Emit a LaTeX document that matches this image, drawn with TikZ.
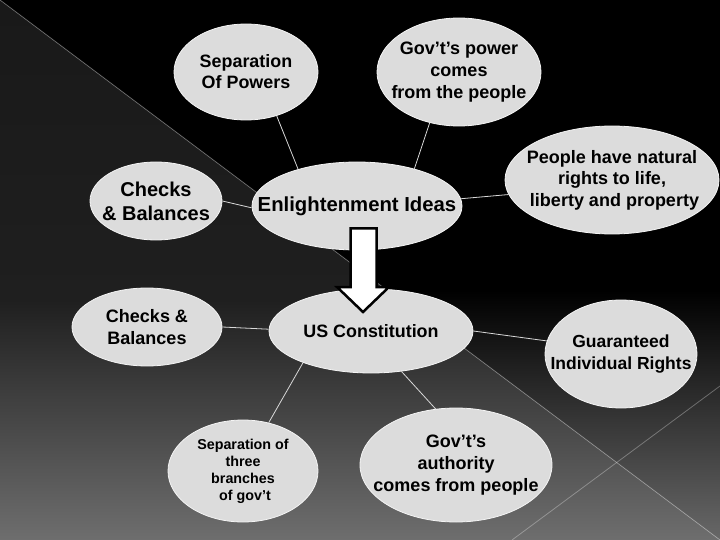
\documentclass[tikz,border=0pt]{standalone}
\usepackage{fontspec}
\setmainfont{Liberation Sans}
\usetikzlibrary{shapes.geometric}
\definecolor{bubblefill}{HTML}{DCDCDC}
\definecolor{bubbleedge}{HTML}{F4F4F4}
\definecolor{linkcol}{HTML}{D8D8D8}
\definecolor{bgA}{HTML}{191919}
\definecolor{bgB}{HTML}{1F1F1F}
\definecolor{bgC}{HTML}{6E6E6E}
\definecolor{bgD}{HTML}{686868}
\begin{document}
\begin{tikzpicture}[x=1pt,y=-1pt,
  bubble/.style={ellipse, fill=bubblefill, draw=bubbleedge, line width=0.8pt,
                 inner sep=0pt},
  btext/.style={inner sep=0pt, align=center, text=black},
  link/.style={draw=linkcol, line width=0.8pt},
  bgline/.style={draw=white, draw opacity=0.3, line width=0.8pt}]
\useasboundingbox (0,0) rectangle (720,540);
% background: lower-left triangle
\begin{scope}
  \clip (0,0) -- (720,540) -- (0,540) -- cycle;
  \shade[top color=bgA, bottom color=bgB] (0,0) rectangle (720,300);
  \shade[top color=bgB, bottom color=bgC] (0,300) rectangle (720,540.5);
\end{scope}
% background: upper-right triangle
\begin{scope}
  \clip (0,0) -- (720,0) -- (720,540) -- cycle;
  \fill[black] (0,0) rectangle (720,290);
  \shade[top color=black, bottom color=bgD] (0,290) rectangle (720,540.5);
\end{scope}
\draw[bgline] (0,0) -- (720,540);
\draw[bgline] (720,386) -- (512,540);

% bubbles
\node[bubble, minimum width=144pt, minimum height=96pt] (sp) at (246,72) {};
\node[btext, font=\fontsize{17.9}{21}\selectfont\bfseries] (sp-t) at (sp) {Separation\\Of Powers};

\node[bubble, minimum width=164pt, minimum height=108pt] (gp) at (459,72) {};
\node[btext, font=\fontsize{18}{22}\selectfont\bfseries] (gp-t) at (gp) {Gov’t’s power\\comes\\from the people};

\node[bubble, minimum width=214pt, minimum height=108pt] (pr) at (612,180) {};
\node[btext, font=\fontsize{18}{21.5}\selectfont\bfseries] (pr-t) at (pr) {People have natural\\rights to life,\\\ liberty and property};

\node[bubble, minimum width=132pt, minimum height=78pt] (cba) at (156,201) {};
\node[btext, font=\fontsize{20}{24}\selectfont\bfseries] (cba-t) at (cba) {Checks\\\& Balances};

\node[bubble, minimum width=210pt, minimum height=88pt] (ei) at (357,206) {};
\node[btext, font=\fontsize{20.3}{22}\selectfont\bfseries] (ei-t) at (ei) {Enlightenment Ideas};

\node[bubble, minimum width=150pt, minimum height=78pt] (cbb) at (147,327) {};
\node[btext, font=\fontsize{18}{22}\selectfont\bfseries] (cbb-t) at (cbb) {Checks \&\\Balances};

\node[bubble, minimum width=204pt, minimum height=84pt] (uc) at (371,331) {};
\node[btext, font=\fontsize{17.9}{20}\selectfont\bfseries] (uc-t) at (uc) {US Constitution};

\node[bubble, minimum width=152pt, minimum height=108pt] (gr) at (621,354) {};
\node[btext, font=\fontsize{17.5}{22}\selectfont\bfseries] (gr-t) at (gr) {Guaranteed\\Individual Rights};

\node[bubble, minimum width=150pt, minimum height=102pt] (st) at (243,471) {};
\node[btext, font=\fontsize{14.3}{17}\selectfont\bfseries] (st-t) at (st) {Separation of\\three\\branches\\\ of gov’t};

\node[bubble, minimum width=192pt, minimum height=114pt] (ga) at (456,465) {};
\node[btext, font=\fontsize{18}{22}\selectfont\bfseries] (ga-t) at (ga) {Gov’t’s\\authority\\comes from people};

% connectors
\draw[link] (sp.-55) -- (ei.148);
\draw[link] (gp.240) -- (ei.33);
\draw[link] (pr.188) -- (ei.4);
\draw[link] (cba.0) -- (ei.181);
\draw[link] (cbb.0) -- (uc.179);
\draw[link] (uc.0.5) -- (gr.170);
\draw[link] (uc.205) -- (st.62);
\draw[link] (uc.-53) -- (ga.110);

% block arrow
\draw[line width=2.5pt, fill=white, line join=miter]
  (350.5,228.5) -- (376.5,228.5) -- (376.5,287) -- (389,287) -- (363,312)
  -- (337,287) -- (350.5,287) -- cycle;
\end{tikzpicture}
\end{document}
